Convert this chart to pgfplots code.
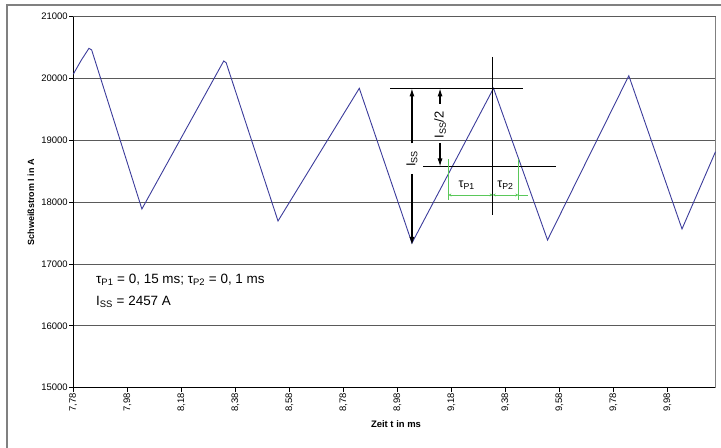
\documentclass[border=0pt]{standalone}
\usepackage{fontspec}
\setmainfont{Liberation Sans}
\usepackage{pgfplots}
\pgfplotsset{compat=1.18}
\usetikzlibrary{arrows.meta}
\definecolor{curve}{RGB}{60,60,155}
\definecolor{grn}{RGB}{90,200,90}
\definecolor{framegray}{RGB}{128,128,128}
\definecolor{gridgray}{RGB}{90,90,90}
\pgfplotstableread{
t v
7.780 20070
7.810 20300
7.838 20489
7.848 20462
8.034 17890
8.337 20284
8.346 20256
8.538 17696
8.839 19842
9.034 17340
9.336 19842
9.536 17389
9.837 20046
10.034 17567
10.158 18817
}\current
\begin{document}
\begin{tikzpicture}
\useasboundingbox (-73.3bp,-60.3bp) rectangle (647.7bp,387.7bp);
\draw[framegray, line width=1.6bp] (-66.3bp,-60.3bp) -- (-66.3bp,382.7bp) -- (647.7bp,382.7bp);
\begin{axis}[
  at={(0,0)}, anchor=south west, scale only axis,
  width=642.2bp, height=371bp,
  xmin=7.78, xmax=10.158, ymin=15000, ymax=21000,
  scaled y ticks=false, scaled x ticks=false,
  axis x line*=bottom, axis y line*=left,
  axis line style={black, line width=1bp, -},
  tick align=outside, major tick length=4bp,
  tick style={black, line width=0.8bp},
  xtick={7.78,7.98,8.18,8.38,8.58,8.78,8.98,9.18,9.38,9.58,9.78,9.98},
  xticklabels={{7,78},{7,98},{8,18},{8,38},{8,58},{8,78},{8,98},{9,18},{9,38},{9,58},{9,78},{9,98}},
  ytick={15000,16000,17000,18000,19000,20000,21000},
  yticklabels={15000,16000,17000,18000,19000,20000,21000},
  xticklabel style={rotate=90, anchor=east, font=\fontsize{9.5}{10}\selectfont, inner sep=1.5bp},
  yticklabel style={font=\fontsize{9.5}{10}\selectfont, inner sep=1.5bp},
  ymajorgrids, grid style={gridgray, line width=0.8bp},
  clip=false,
]
\draw[framegray, line width=0.8bp] (10.158,15000) -- (10.158,21000);
\addplot[curve, line width=0.9bp, no marks] table[x=t, y=v] {\current};
% annotations
\draw[black, line width=0.8bp] (8.953,19840) -- (9.447,19840);
\draw[black, line width=0.8bp] (9.333,20349) -- (9.333,17793);
\draw[black, line width=0.8bp] (9.075,18578) -- (9.566,18578);
% Iss arrow
\draw[black, line width=1.1bp, -{Latex[length=8bp,width=5bp]}] (9.034,18950) -- (9.034,19840);
\draw[black, line width=1.1bp, -{Latex[length=8bp,width=5bp]}] (9.034,18460) -- (9.034,17308);
\node[rotate=90, font=\fontsize{13}{14}\selectfont, inner sep=0pt] at (9.034,18705) {I\textsubscript{SS}};
% Iss/2 arrow
\draw[black, line width=1.1bp, -{Latex[length=8bp,width=5bp]}] (9.138,19590) -- (9.138,19840);
\draw[black, line width=1.1bp, -{Latex[length=8bp,width=5bp]}] (9.138,18960) -- (9.138,18578);
\node[rotate=90, font=\fontsize{13}{14}\selectfont, inner sep=0pt] at (9.138,19250) {I\textsubscript{SS}/2};
% green tau markers
\draw[grn, line width=0.8bp] (9.169,18694) -- (9.169,18036);
\draw[grn, line width=0.8bp] (9.428,18694) -- (9.428,18036);
\draw[grn, line width=0.8bp, {Stealth[length=3bp,width=3bp]}-{Stealth[length=3bp,width=3bp]}] (9.169,18117) -- (9.333,18117);
\draw[grn, line width=0.8bp, {Stealth[length=3bp,width=3bp]}-{Stealth[length=3bp,width=3bp]}] (9.333,18117) -- (9.428,18117);
\draw[grn, line width=0.8bp] (9.428,18117) -- (9.463,18117);
\node[font=\fontsize{12.5}{13}\selectfont, inner sep=0pt] at (9.237,18270) {τ\textsubscript{P1}};
\node[font=\fontsize{12.5}{13}\selectfont, inner sep=0pt] at (9.380,18270) {τ\textsubscript{P2}};
% text
\node[anchor=west, font=\fontsize{13.5}{14}\selectfont, inner sep=0pt] at (7.864,16742) {τ\textsubscript{P1} = 0, 15 ms; τ\textsubscript{P2} = 0, 1 ms};
\node[anchor=west, font=\fontsize{13.5}{14}\selectfont, inner sep=0pt] at (7.864,16386) {I\textsubscript{SS} = 2457 A};
\end{axis}
\node[rotate=90, font=\fontsize{9}{10}\selectfont\bfseries] at (-42.3bp,185.5bp) {Schweißstrom I in A};
\node[font=\fontsize{9.5}{10}\selectfont\bfseries] at (322.7bp,-36.3bp) {Zeit t in ms};
\end{tikzpicture}
\end{document}
